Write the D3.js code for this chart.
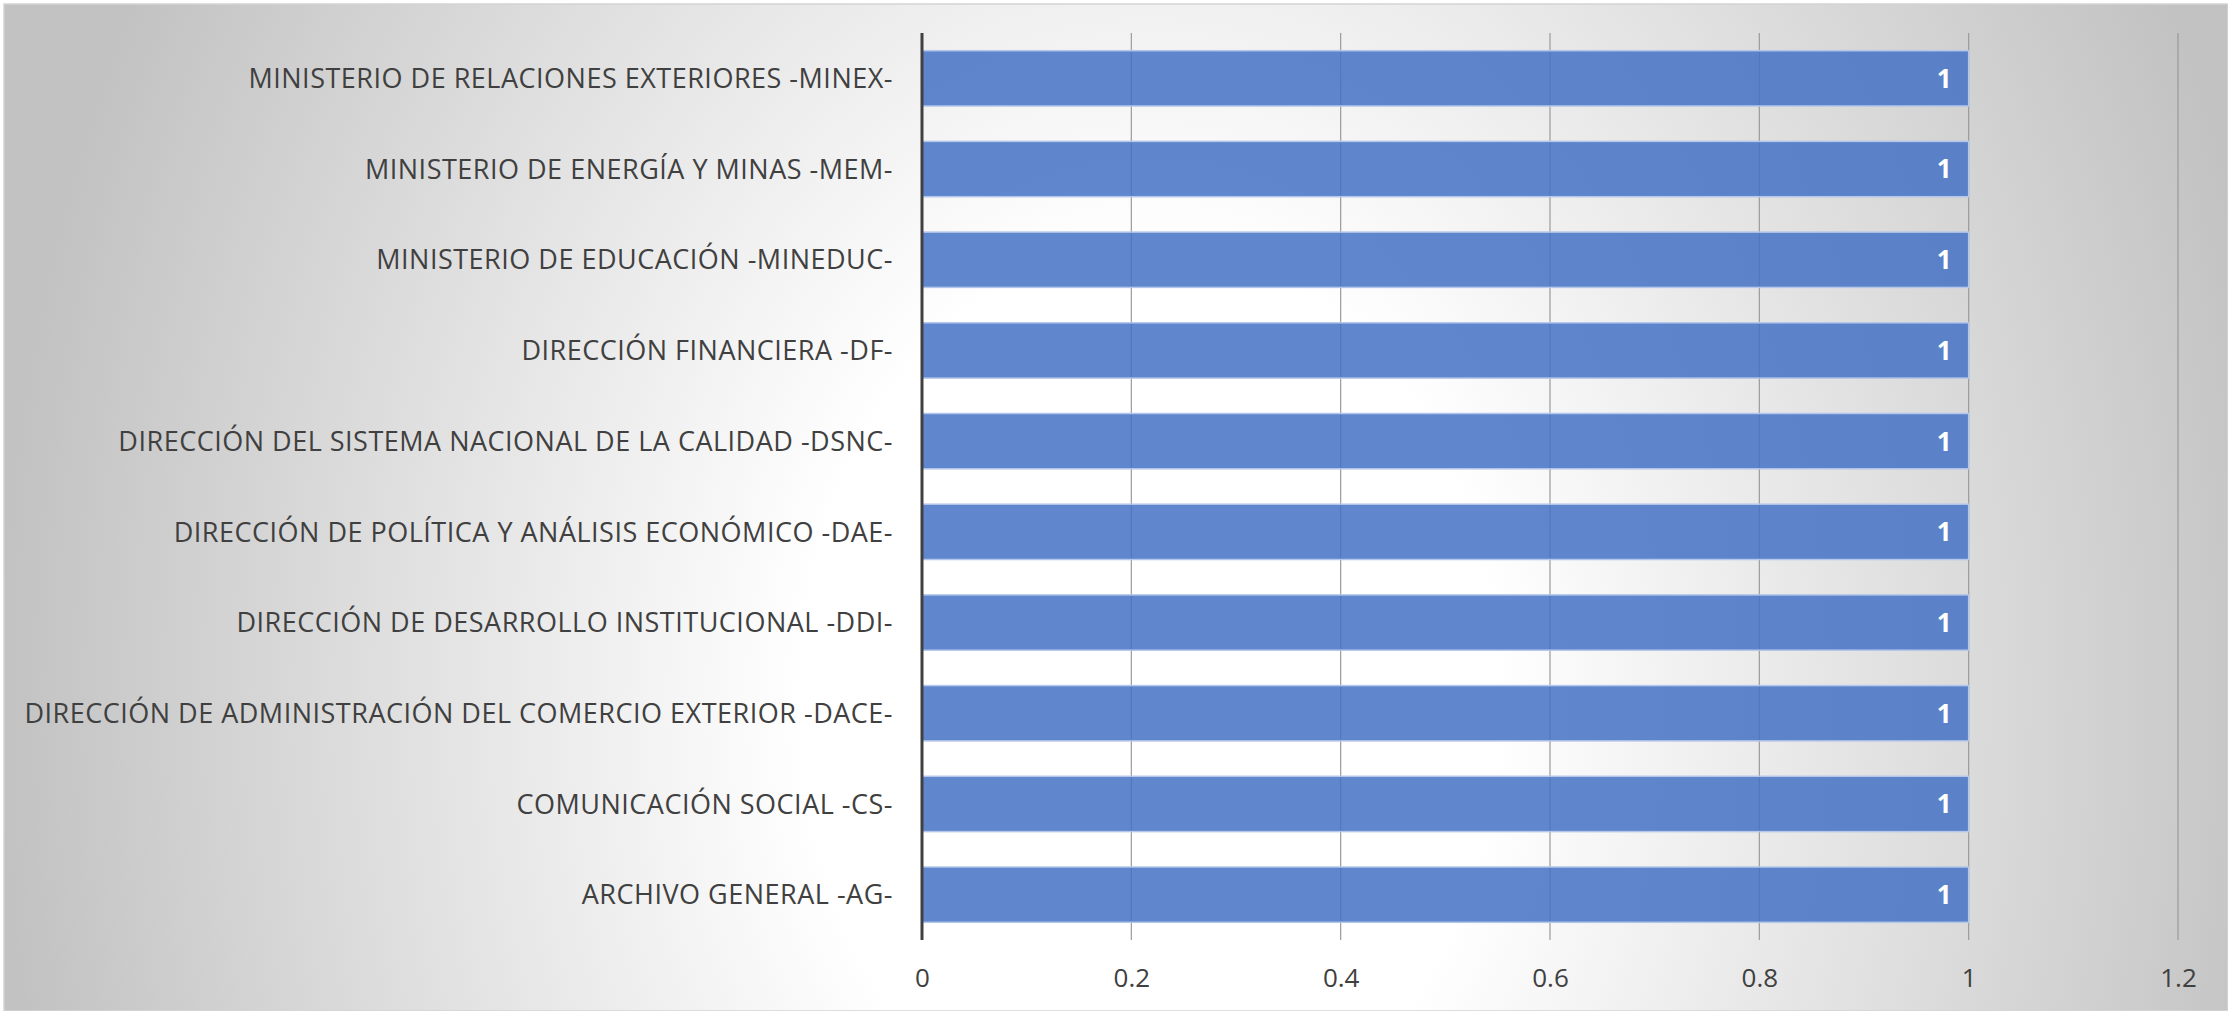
<!DOCTYPE html>
<html>
<head>
<meta charset="utf-8">
<script src="https://cdn.jsdelivr.net/npm/d3@7"></script>
<style>
  body { margin: 0; background: #ffffff; }
  text { font-family: "Open Sans", sans-serif; }
</style>
</head>
<body>
<div id="chart-area"></div>
<script>
var categories = [
  "MINISTERIO DE RELACIONES EXTERIORES -MINEX-",
  "MINISTERIO DE ENERGÍA Y MINAS -MEM-",
  "MINISTERIO DE EDUCACIÓN -MINEDUC-",
  "DIRECCIÓN FINANCIERA -DF-",
  "DIRECCIÓN DEL SISTEMA NACIONAL DE LA CALIDAD -DSNC-",
  "DIRECCIÓN DE POLÍTICA Y ANÁLISIS ECONÓMICO -DAE-",
  "DIRECCIÓN DE DESARROLLO INSTITUCIONAL -DDI-",
  "DIRECCIÓN DE ADMINISTRACIÓN DEL COMERCIO EXTERIOR -DACE-",
  "COMUNICACIÓN SOCIAL -CS-",
  "ARCHIVO GENERAL -AG-"
];
var values = [1, 1, 1, 1, 1, 1, 1, 1, 1, 1];
var xTicks = [0, 0.2, 0.4, 0.6, 0.8, 1, 1.2];

var svgWidth = 2228,
    svgHeight = 1011,
    margin = { top: 33, right: 50, bottom: 71, left: 922 },
    width = svgWidth - margin.left - margin.right,
    height = svgHeight - margin.top - margin.bottom;

var svg = d3.select("#chart-area")
            .append("svg")
            .attr("width", svgWidth)
            .attr("height", svgHeight);

var defs = svg.append("defs");
var grad = defs.append("radialGradient")
               .attr("id", "bg")
               .attr("gradientUnits", "userSpaceOnUse")
               .attr("cx", 0).attr("cy", 0).attr("r", 1)
               .attr("gradientTransform", "translate(1150,700) scale(1150,1500)");
grad.append("stop").attr("offset", "0").attr("stop-color", "#ffffff");
grad.append("stop").attr("offset", "0.3").attr("stop-color", "#ffffff");
grad.append("stop").attr("offset", "1").attr("stop-color", "#c2c2c2");

svg.append("rect")
   .attr("x", 4).attr("y", 4)
   .attr("width", svgWidth - 4).attr("height", svgHeight - 4)
   .attr("fill", "url(#bg)")
   .attr("stroke", "#d4d4d4")
   .attr("stroke-width", 1.5);

var g = svg.append("g")
           .attr("transform", "translate(" + margin.left + "," + margin.top + ")");

var x = d3.scaleLinear().domain([0, 1.2]).range([0, width]);
var y = d3.scaleBand().domain(categories).range([0, height])
          .paddingInner(0.39).paddingOuter(0.195);

// gridlines
g.append("g")
 .selectAll("line")
 .data(xTicks.slice(1))
 .enter().append("line")
 .attr("x1", function(d) { return x(d); })
 .attr("x2", function(d) { return x(d); })
 .attr("y1", 0)
 .attr("y2", height)
 .attr("stroke", "#9a9a9a")
 .attr("stroke-width", 1.2);

// bars
g.selectAll("rect.bar")
 .data(values)
 .enter().append("rect")
 .attr("class", "bar")
 .attr("x", x(0))
 .attr("y", function(d, i) { return y(categories[i]); })
 .attr("width", function(d) { return x(d) - x(0); })
 .attr("height", y.bandwidth())
 .attr("fill", "#4472c4")
 .attr("fill-opacity", 0.85)
 .attr("stroke", "#b4c7ea")
 .attr("stroke-width", 1.5);

// value labels
g.selectAll("text.value")
 .data(values)
 .enter().append("text")
 .attr("class", "value")
 .attr("x", function(d) { return x(d) - 17; })
 .attr("y", function(d, i) { return y(categories[i]) + y.bandwidth() / 2; })
 .attr("dy", "0.36em")
 .attr("text-anchor", "end")
 .attr("fill", "#ffffff")
 .attr("font-weight", "bold")
 .attr("font-size", "26px")
 .text(function(d) { return d; });

// category labels
g.selectAll("text.cat")
 .data(categories)
 .enter().append("text")
 .attr("class", "cat")
 .attr("x", -29)
 .attr("y", function(d) { return y(d) + y.bandwidth() / 2; })
 .attr("dy", "0.36em")
 .attr("text-anchor", "end")
 .attr("fill", "#404040")
 .attr("font-size", "27px")
 .attr("letter-spacing", "0.5px")
 .text(function(d) { return d; });

// x tick labels
var xAxisCall = d3.axisBottom(x)
                  .tickValues(xTicks)
                  .tickSize(0)
                  .tickPadding(29)
                  .tickFormat(function(d) { return String(d); });

var xAxisGroup = g.append("g")
                  .attr("class", "x axis")
                  .attr("transform", "translate(0," + height + ")")
                  .call(xAxisCall);
xAxisGroup.select(".domain").remove();
xAxisGroup.selectAll("text")
          .attr("fill", "#404040")
          .attr("font-size", "26px")
          .style("font-family", "'Open Sans', sans-serif");

// category axis line
g.append("line")
 .attr("x1", x(0)).attr("x2", x(0))
 .attr("y1", 0).attr("y2", height)
 .attr("stroke", "#404040")
 .attr("stroke-width", 3);
</script>
</body>
</html>
